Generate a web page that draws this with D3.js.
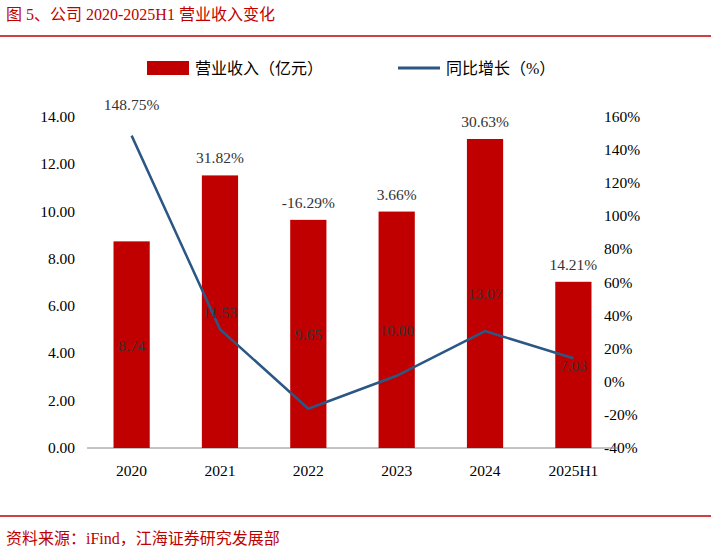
<!DOCTYPE html><html><head><meta charset="utf-8"><script src="https://d3js.org/d3.v7.min.js"></script>
<style>body{margin:0;background:#fff}text{font-family:"Liberation Serif","Noto Sans CJK SC",serif}</style></head><body>
<svg id="c" width="711" height="554"></svg>
<script>
const categories=["2020","2021","2022","2023","2024","2025H1"];
const revenue=[8.74,11.53,9.65,10.00,13.07,7.03];
const growth=[148.75,31.82,-16.29,3.66,30.63,14.21];
const leftTicks=[0,2,4,6,8,10,12,14];
const rightTicks=[-40,-20,0,20,40,60,80,100,120,140,160];
const svg=d3.select("#c");
const red="#C00000",blue="#2B5785";
const x=d3.scaleBand().domain(categories).range([87,618]).paddingInner(0.59).paddingOuter(0.3);
const yL=d3.scaleLinear().domain([0,14]).range([448,117]);
const yR=d3.scaleLinear().domain([-40,160]).range([448,117]);
svg.append("text").attr("x",6).attr("y",20).attr("fill",red).attr("font-size",16).text("图 5、公司 2020-2025H1 营业收入变化");
svg.append("line").attr("x1",0).attr("x2",711).attr("y1",36).attr("y2",36).attr("stroke",red).attr("stroke-width",1.5);
svg.append("line").attr("x1",0).attr("x2",711).attr("y1",516).attr("y2",516).attr("stroke",red).attr("stroke-width",1.5);
svg.append("text").attr("x",6).attr("y",544).attr("fill",red).attr("font-size",16).text("资料来源：iFind，江海证券研究发展部");
// legend
svg.append("rect").attr("x",147).attr("y",61).attr("width",42).attr("height",14).attr("fill",red);
svg.append("text").attr("x",195).attr("y",74).attr("font-size",16).text("营业收入（亿元）");
svg.append("line").attr("x1",398).attr("x2",440).attr("y1",68).attr("y2",68).attr("stroke",blue).attr("stroke-width",3);
svg.append("text").attr("x",446).attr("y",74).attr("font-size",16).text("同比增长（%）");
// axes
svg.append("g").selectAll("text").data(leftTicks).join("text").attr("x",75).attr("y",d=>yL(d)+5).attr("text-anchor","end").attr("font-size",15.5).text(d=>d.toFixed(2));
svg.append("g").selectAll("text").data(rightTicks).join("text").attr("x",604).attr("y",d=>yR(d)+5).attr("font-size",15.5).text(d=>d+"%");
svg.append("line").attr("x1",87).attr("x2",618).attr("y1",448).attr("y2",448).attr("stroke","#888");
svg.append("g").selectAll("text").data(categories).join("text").attr("x",d=>x(d)+x.bandwidth()/2).attr("y",476).attr("text-anchor","middle").attr("font-size",15.5).text(d=>d);
// bars
svg.append("g").selectAll("rect").data(revenue).join("rect").attr("x",(d,i)=>x(categories[i])).attr("width",x.bandwidth()).attr("y",d=>yL(d)).attr("height",d=>448-yL(d)).attr("fill",red);
// line
const cx=i=>x(categories[i])+x.bandwidth()/2;
svg.append("path").datum(growth).attr("fill","none").attr("stroke",blue).attr("stroke-width",2.5).attr("d",d3.line().x((d,i)=>cx(i)).y(d=>yR(d)));
// labels
svg.append("g").selectAll("text").data(revenue).join("text").attr("x",(d,i)=>cx(i)).attr("y",d=>(yL(d)+448)/2+6).attr("text-anchor","middle").attr("font-size",15.5).attr("fill","#333").text(d=>d.toFixed(2));
svg.append("g").selectAll("text").data(growth).join("text").attr("x",(d,i)=>cx(i)).attr("y",(d,i)=>Math.min(yL(revenue[i])-12,yR(d)-26)).attr("text-anchor","middle").attr("font-size",15.5).attr("fill","#333").text(d=>d.toFixed(2)+"%");
</script></body></html>
